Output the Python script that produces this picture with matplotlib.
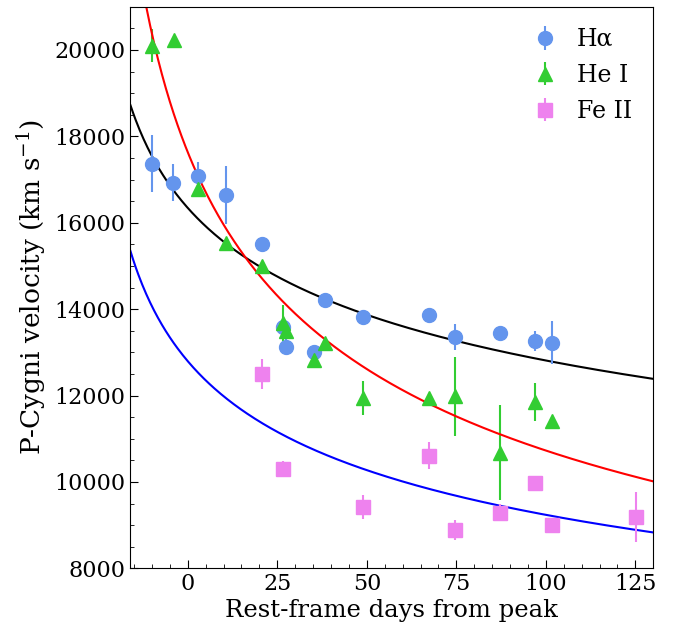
import numpy as np
import matplotlib
matplotlib.use("Agg")
import matplotlib.pyplot as plt

plt.rcParams['font.family'] = ['DejaVu Serif']
plt.rcParams['mathtext.fontset'] = 'dejavuserif'

# H alpha
ha_t = [-9.9, -4.1, 2.8, 10.7, 20.6, 26.5, 27.4, 35.3, 38.2, 48.9, 67.5, 74.5, 87.2, 97.0, 101.8]
ha_v = [17370, 16930, 17080, 16640, 15500, 13590, 13120, 13000, 14210, 13820, 13875, 13350, 13450, 13260, 13220]
ha_e = [670, 420, 330, 680, 0, 0, 180, 0, 0, 0, 0, 300, 0, 230, 500]

# He I
he_t = [-9.9, -3.8, 2.8, 10.7, 20.6, 26.5, 27.4, 35.3, 38.2, 48.9, 67.5, 74.5, 87.2, 97.0, 101.8]
he_v = [20100, 20230, 16770, 15540, 14990, 13680, 13490, 12830, 13220, 11940, 11940, 11980, 10670, 11840, 11400]
he_e = [390, 0, 0, 0, 0, 420, 0, 0, 0, 390, 0, 910, 1100, 440, 0]

# Fe II
fe_t = [20.6, 26.5, 48.9, 67.5, 74.5, 87.2, 97.0, 101.8, 125.3]
fe_v = [12500, 10300, 9420, 10610, 8890, 9290, 9970, 9000, 9190]
fe_e = [350, 190, 270, 310, 230, 200, 0, 0, 570]

# power-law fits v = A * (t - t0)^(-b)
t0 = -28.0
fits = {
    'black': (27870, 0.1602),
    'red': (52420, 0.3270),
    'blue': (26130, 0.2143),
}

fig = plt.figure(figsize=(6.81, 6.27), dpi=100)
ax = fig.add_axes([0.1916, 0.0936, 0.7677, 0.8957])

tt = np.linspace(-16, 130, 400)


def fit_curve(name):
    A, b = fits[name]
    return A * (tt - t0) ** (-b)


ax.plot(tt, fit_curve('black'), color='black', lw=1.5)
ax.errorbar(ha_t, ha_v, yerr=ha_e, fmt='o', color='cornflowerblue', ms=10,
            elinewidth=1.5, capsize=0, label='Hα')
ax.errorbar(he_t, he_v, yerr=he_e, fmt='^', color='limegreen', ms=10,
            elinewidth=1.5, capsize=0, label='He I')
ax.plot(tt, fit_curve('red'), color='red', lw=1.5)
ax.plot(tt, fit_curve('blue'), color='blue', lw=1.5)
ax.errorbar(fe_t, fe_v, yerr=fe_e, fmt='s', color='violet', ms=10,
            elinewidth=1.5, capsize=0, label='Fe II')

ax.set_xlim(-16, 130)
ax.set_ylim(8000, 21000)
ax.set_xticks([0, 25, 50, 75, 100, 125])
ax.set_yticks(np.arange(8000, 20001, 2000))
ax.set_xticks(np.arange(-15, 131, 5), minor=True)
ax.set_yticks(np.arange(8000, 21001, 500), minor=True)
ax.tick_params(which='both', direction='in', labelsize=16)
ax.tick_params(which='major', length=6)
ax.tick_params(which='minor', length=3)

ax.set_xlabel('Rest-frame days from peak', fontsize=17.5, labelpad=3)
ax.set_ylabel('P-Cygni velocity (km s$^{-1}$)', fontsize=19, labelpad=5)

ax.legend(loc='upper right', frameon=False, fontsize=17, handletextpad=0.5,
          handlelength=1.7, labelspacing=0.55, borderaxespad=0.5)

fig.savefig('out.png', dpi=100)
